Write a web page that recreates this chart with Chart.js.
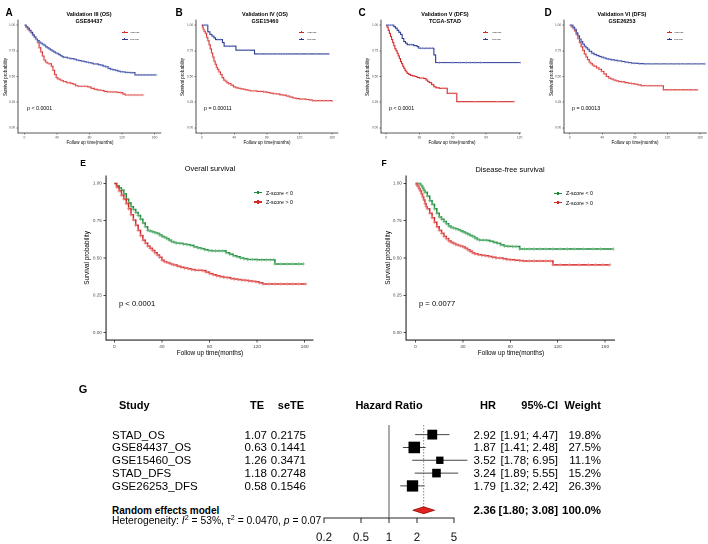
<!DOCTYPE html>
<html>
<head>
<meta charset="utf-8">
<script src="https://cdn.jsdelivr.net/npm/chart.js@4.4.1/dist/chart.umd.min.js"></script>
<style>
  html, body { margin: 0; padding: 0; background: #fff; }
  #page { position: relative; width: 708px; height: 544px; overflow: hidden; font-family: "Liberation Sans", Arial, Helvetica, sans-serif; }
  canvas { position: absolute; }
  .t { position: absolute; white-space: nowrap; transform-origin: 0 0; line-height: 1; }
  .t sup { font-size: 70%; line-height: 0; vertical-align: 0.55em; }
  .k { position: absolute; }
</style>
</head>
<body>
<div id="page"></div>
<script>
const FONT = '"Liberation Sans", Arial, Helvetica, sans-serif';

// ====== KM curves, [months, survival]; a repeated survival value = censored
const aHigh = [[0,1],[2,.98],[4,.96],[6,.945],[8,.925],[10,.905],[12,.885],[14,.865],[16,.83],[18,.78],[20,.74],[22,.70],[24,.66],[26,.64],[28,.63],[30,.625],[31,.625],[33,.6],[35,.56],[37,.52],[39,.49],[41,.475],[44,.465],[46,.46],[48,.45],[52,.44],[55,.44],[57,.432],[60,.425],[63,.41],[66,.405],[70,.405],[74,.405],[78,.398],[82,.385],[86,.375],[90,.368],[94,.365],[98,.355],[102,.35],[106,.35],[110,.35],[114,.345],[118,.342],[121,.33],[124,.32],[128,.32],[132,.32],[136,.32],[140,.32],[144,.32],[146,.32]];
const aLow = [[0,1],[2,.985],[4,.97],[6,.95],[8,.93],[10,.905],[12,.885],[14,.865],[16,.85],[18,.835],[20,.825],[22,.815],[24,.805],[26,.79],[28,.78],[30,.77],[32,.76],[34,.75],[36,.74],[38,.73],[40,.725],[42,.715],[44,.705],[46,.695],[48,.687],[50,.687],[53,.68],[56,.675],[58,.675],[61,.668],[64,.66],[67,.655],[70,.65],[73,.645],[76,.64],[79,.635],[82,.63],[85,.622],[88,.622],[91,.615],[94,.61],[97,.6],[100,.595],[103,.58],[106,.57],[109,.565],[112,.56],[115,.552],[118,.547],[121,.545],[124,.54],[127,.54],[130,.537],[133,.537],[136,.515],[140,.515],[144,.515],[148,.515],[152,.515],[156,.515],[160,.515],[162,.515]];
const bHigh = [[0,1],[1,.98],[2,.96],[3,.94],[4.5,.92],[6,.88],[7.5,.85],[9,.81],[10.5,.77],[12,.73],[13.5,.69],[15,.65],[16.5,.62],[18,.59],[19.5,.57],[21,.545],[23,.52],[25,.49],[27,.465],[29,.455],[31,.44],[33,.43],[36,.415],[39,.4],[42,.39],[45,.385],[48,.38],[51,.375],[54,.37],[57,.365],[60,.36],[64,.36],[68,.355],[72,.355],[76,.35],[80,.345],[84,.338],[88,.332],[92,.33],[96,.322],[100,.318],[104,.31],[108,.3],[112,.29],[116,.285],[120,.28],[124,.28],[128,.276],[132,.272],[136,.265],[140,.265],[145,.265],[150,.265],[155,.265],[160,.26]];
const bLow = [[0,1],[3,1],[5,1],[6.5,1],[7.5,.935],[10,.91],[12.5,.893],[15,.875],[17,.86],[20,.86],[23,.86],[25.5,.83],[27.5,.795],[30,.795],[34,.795],[38,.795],[42,.756],[46,.756],[52,.756],[58,.756],[64.8,.72],[72,.72],[80,.72],[86,.72],[92,.72],[98,.72],[104,.72],[112,.72],[120,.72],[130,.72],[140,.72],[150,.72],[156,.72]];
const cHigh = [[0,1],[1,.98],[2,.95],[3,.92],[4,.89],[5,.86],[6,.83],[7,.8],[8,.77],[9,.75],[10,.725],[11,.7],[12,.675],[13,.645],[14,.625],[15,.6],[16,.58],[17,.56],[18,.545],[19,.53],[20.5,.52],[22,.51],[24,.505],[26,.5],[28,.49],[30,.485],[32,.485],[34,.48],[36,.465],[37.5,.45],[39,.44],[41,.42],[43,.4],[45,.39],[48,.385],[51,.385],[53.6,.385],[55,.336],[57,.336],[60,.336],[62.7,.336],[63.6,.255],[80,.255],[100,.255],[115,.255]];
const cLow = [[0,1],[2,1],[4,1],[6,1],[7,.985],[8.5,.97],[10,.95],[11.5,.93],[13,.91],[14.5,.87],[16,.84],[17.5,.825],[19,.81],[21,.81],[23,.81],[25,.8],[28,.79],[29.4,.775],[31,.775],[33,.775],[36,.775],[39,.775],[41.6,.775],[43,.71],[44.6,.635],[48,.635],[60,.635],[67,.635],[72,.635],[76,.635],[80,.635],[85,.635],[121,.635]];
const dHigh = [[0,1],[2,.985],[4,.97],[6,.945],[8,.91],[10,.87],[12,.83],[14,.79],[16,.755],[18,.72],[20,.69],[22,.665],[24,.64],[26,.625],[28,.61],[30,.6],[33,.585],[36,.57],[39,.55],[42,.525],[45,.5],[48,.484],[51,.475],[54,.465],[57,.458],[60,.451],[64,.448],[68,.44],[72,.435],[76,.43],[80,.425],[84,.418],[88,.41],[95,.41],[100,.41],[105,.41],[110,.41],[113,.41],[115,.37],[125,.37],[135,.37],[145,.37],[152,.37],[157,.37]];
const dLow = [[0,1],[2,1],[4,.98],[6,.96],[8,.925],[10,.895],[12,.865],[14,.84],[16,.815],[18,.795],[20,.78],[22,.765],[24,.745],[27,.727],[30,.715],[33,.705],[36,.695],[39,.688],[42,.68],[45,.672],[48,.668],[51,.662],[55,.658],[59,.652],[64,.646],[68,.64],[72,.635],[76,.63],[80,.628],[85,.625],[92,.623],[100,.623],[110,.623],[120,.623],[128,.623],[135,.623],[142,.623],[150,.623],[158,.623],[166,.623]];
const eLow = [[0,1],[2,.985],[4,.97],[6,.955],[8,.93],[10,.895],[12,.87],[14,.845],[16,.825],[18,.805],[20,.785],[22,.76],[24,.735],[26,.71],[28,.685],[30,.68],[32,.675],[34,.67],[36,.665],[38,.655],[40,.645],[42,.638],[44,.63],[46,.62],[48,.61],[50,.605],[52,.6],[55,.598],[58,.593],[61,.59],[64,.585],[67,.575],[70,.568],[73,.563],[76,.555],[79,.55],[82,.548],[85,.548],[88,.548],[91,.548],[94,.535],[97,.525],[100,.515],[103,.508],[106,.5],[109,.495],[112,.49],[116,.49],[120,.488],[124,.488],[128,.488],[131,.488],[134,.488],[135,.46],[140,.46],[145,.46],[150,.46],[155,.46],[159,.46]];
const eHigh = [[0,1],[2,.975],[4,.95],[6,.92],[8,.895],[10,.865],[12,.83],[14,.79],[16,.755],[18,.72],[20,.685],[22,.65],[24,.62],[26,.6],[28,.58],[30,.565],[32,.55],[34,.535],[36,.52],[38,.505],[40,.485],[42,.475],[44,.47],[46,.465],[48,.458],[50,.453],[53,.445],[56,.438],[59,.432],[62,.428],[65,.422],[68,.418],[71,.418],[74,.415],[77,.405],[80,.395],[83,.388],[86,.38],[89,.375],[92,.37],[95,.368],[98,.362],[101,.358],[104,.355],[107,.352],[110,.35],[113,.346],[116,.343],[119,.34],[122,.333],[125,.326],[130,.326],[135,.326],[140,.326],[145,.326],[150,.326],[155,.326],[161,.326]];
const fLow = [[0,1],[2,1],[4,.995],[5,.985],[6,.97],[7,.955],[8,.94],[10,.915],[12,.885],[14,.86],[16,.83],[18,.8],[20,.775],[22,.76],[24,.745],[26,.73],[28,.715],[30,.705],[32,.7],[34,.695],[36,.69],[38,.683],[40,.675],[42,.668],[44,.66],[46,.652],[48,.645],[50,.635],[52,.625],[54,.62],[57,.62],[60,.618],[63,.612],[66,.605],[69,.598],[72,.588],[75,.58],[78,.578],[82,.577],[85,.577],[88,.56],[92,.56],[96,.56],[100,.56],[105,.56],[110,.56],[116,.56],[122,.56],[128,.56],[134,.56],[142,.56],[150,.56],[156,.56],[167,.56]];
const fHigh = [[0,1],[1,.99],[2,.98],[3,.965],[4,.95],[5,.93],[6,.91],[7,.89],[8,.865],[9,.845],[10,.83],[12,.8],[14,.77],[16,.74],[18,.71],[20,.685],[22,.665],[24,.645],[26,.63],[28,.615],[30,.605],[32,.598],[34,.59],[36,.585],[38,.58],[40,.575],[42,.565],[44,.555],[46,.545],[48,.535],[50,.528],[53,.522],[56,.518],[59,.515],[62,.51],[65,.505],[68,.5],[71,.5],[74,.495],[77,.49],[80,.488],[84,.485],[88,.482],[91,.48],[96,.48],[100,.48],[105,.48],[110,.48],[114,.48],[116,.454],[122,.454],[130,.454],[138,.454],[146,.454],[152,.454],[158,.454],[164,.454]];

const survTicks = [0, 0.25, 0.5, 0.75, 1];
const monthTicks160 = [0, 40, 80, 120, 160];
const monthTicks120 = [0, 30, 60, 90, 120];

// ====== Forest plot data
const studies = ["STAD_OS", "GSE84437_OS", "GSE15460_OS", "STAD_DFS", "GSE26253_DFS"];
const te = [1.07, 0.63, 1.26, 1.18, 0.58];
const seTE = [0.2175, 0.1441, 0.3471, 0.2748, 0.1546];
const hr = [2.92, 1.87, 3.52, 3.24, 1.79];
const ciLow = [1.91, 1.41, 1.78, 1.89, 1.32];
const ciHigh = [4.47, 2.48, 6.95, 5.55, 2.42];
const weight = [19.8, 27.5, 11.1, 15.2, 26.3];
const pooledHR = 2.36, pooledLow = 1.80, pooledHigh = 3.08, pooledWeight = 100.0;
const hetI2 = "53%", hetTau2 = "0.0470", hetP = "0.07";
const hrTicks = [0.2, 0.5, 1, 2, 5];

const RED = "#D52A2A", RED_M = "rgba(236,130,130,0.8)";
const BLUE = "#2B3990", BLUE_M = "rgba(120,135,205,0.8)";
const GREEN = "#1E8A3A", GREEN_M = "rgba(115,190,135,0.8)";

const page = document.getElementById("page");
const K = 4;

// text helper: (x, y) is the anchor, y = vertical centre
function text(str, x, y, o = {}) {
  const d = document.createElement("div");
  d.className = "t";
  d.innerHTML = str;
  d.style.fontSize = (o.size || 10) * K + "px";
  d.style.fontWeight = o.bold ? "bold" : "normal";
  d.style.color = o.color || "#000";
  d.style.left = x + "px";
  d.style.top = y + "px";
  const ax = o.align === "center" ? -50 : o.align === "right" ? -100 : 0;
  d.style.transform = (o.rotate ? `rotate(${o.rotate}deg) ` : "") + `scale(${1 / K}) translate(${ax}%, -50%)`;
  page.appendChild(d);
}

function legendKey(x1, x2, y, color, lw, r) {
  const l = document.createElement("div");
  l.className = "k";
  Object.assign(l.style, { left: x1 + "px", top: (y - lw / 2) + "px", width: (x2 - x1) + "px", height: lw + "px", background: color });
  page.appendChild(l);
  const v = document.createElement("div");
  v.className = "k";
  Object.assign(v.style, { left: ((x1 + x2) / 2 - lw / 2) + "px", top: (y - r) + "px", width: lw + "px", height: 2 * r + "px", background: color });
  page.appendChild(v);
}

function makeCanvas(l, t, w, h) {
  const cv = document.createElement("canvas");
  cv.width = w; cv.height = h;
  cv.style.left = l + "px"; cv.style.top = t + "px";
  cv.style.width = w + "px"; cv.style.height = h + "px";
  page.appendChild(cv);
  return cv;
}

const SMALL = { padL: 16, padB: 8, fx: 3.4, fy: 3.2, tl: 1.5, tp: 0.8, lw: 1.1, mr: 1.2, axw: 0.8,
  title: 5.5, axTitle: 4.5, leg: 2.4, p: 5.3, letter: 10 };
const BIG = { padL: 14, padB: 10, fx: 4.8, fy: 4.6, tl: 2.5, tp: 1.2, lw: 1.5, mr: 1.7, axw: 1.1,
  title: 7.4, axTitle: 6.4, leg: 5.3, p: 7.6, letter: 8.5 };

const kmPanels = [
  { letter: "A", at: [9, 12], st: SMALL, area: { l: 17.8, t: 20.2, r: 160.8, b: 132.8 }, x: [-8, 168], ticks: monthTicks160,
    title: ["Validation III (OS)", "GSE84437"], titleX: 89, p: "p &lt; 0.0001", pAt: [27, 108.3],
    yTitleX: 5, xTitleX: 89.5, xTitleY: 141.7,
    legend: { x1: 121.7, x2: 127.7, tx: 130, ys: [32.3, 39] },
    series: [{ name: "High risk", data: aHigh, color: RED, mark: RED_M, all: true },
             { name: "Low risk", data: aLow, color: BLUE, mark: BLUE_M, all: true }] },
  { letter: "B", at: [178.5, 12], st: SMALL, area: { l: 195.6, t: 20.2, r: 337.4, b: 132.8 }, x: [-7, 167], ticks: monthTicks160,
    title: ["Validation IV (OS)", "GSE15460"], titleX: 265, p: "p = 0.00011", pAt: [204.3, 108.3],
    yTitleX: 181.7, xTitleX: 266.7, xTitleY: 141.7,
    legend: { x1: 299, x2: 304.3, tx: 306.7, ys: [32.3, 39.3] },
    series: [{ name: "High risk", data: bHigh, color: RED, mark: RED_M, all: true },
             { name: "Low risk", data: bLow, color: BLUE, mark: BLUE_M, all: false }] },
  { letter: "C", at: [361.7, 12], st: SMALL, area: { l: 380.7, t: 20.2, r: 520.4, b: 132.8 }, x: [-4.5, 121], ticks: monthTicks120,
    title: ["Validation V (DFS)", "TCGA-STAD"], titleX: 445, p: "p &lt; 0.0001", pAt: [389, 108.3],
    yTitleX: 366.7, xTitleX: 451.7, xTitleY: 141.7,
    legend: { x1: 483.3, x2: 488.3, tx: 491.7, ys: [32.3, 39] },
    series: [{ name: "High risk", data: cHigh, color: RED, mark: RED_M, all: false },
             { name: "Low risk", data: cLow, color: BLUE, mark: BLUE_M, all: false }] },
  { letter: "D", at: [548, 12], st: SMALL, area: { l: 564, t: 20.2, r: 706.5, b: 132.8 }, x: [-7, 168], ticks: monthTicks160,
    title: ["Validation VI (DFS)", "GSE26253"], titleX: 621.5, p: "p = 0.00013", pAt: [572, 108.3],
    yTitleX: 551, xTitleX: 634.7, xTitleY: 141.7,
    legend: { x1: 666.7, x2: 671.7, tx: 674, ys: [32.3, 39] },
    series: [{ name: "High risk", data: dHigh, color: RED, mark: RED_M, all: true },
             { name: "Low risk", data: dLow, color: BLUE, mark: BLUE_M, all: true }] },
  { letter: "E", at: [83.3, 163], st: BIG, area: { l: 106, t: 176.25, r: 313, b: 340.15 }, x: [-7, 167], ticks: monthTicks160,
    title: ["Overall survival"], titleX: 210, titleY: 168, p: "p &lt; 0.0001", pAt: [119, 303.3],
    yTitleX: 87.3, xTitleX: 210, xTitleY: 352.7,
    legend: { x1: 254, x2: 261.7, tx: 265.7, ys: [192.7, 202] },
    series: [{ name: "Z-score &lt; 0", data: eLow, color: GREEN, mark: GREEN_M, all: true },
             { name: "Z-score &gt; 0", data: eHigh, color: RED, mark: RED_M, all: true }] },
  { letter: "F", at: [384, 163], st: BIG, area: { l: 406.2, t: 176.25, r: 614.8, b: 340.15 }, x: [-8, 168], ticks: monthTicks160,
    title: ["Disease-free survival"], titleX: 510, titleY: 169, p: "p = 0.0077", pAt: [419.3, 303.3],
    yTitleX: 388.3, xTitleX: 510.8, xTitleY: 352.7,
    legend: { x1: 554, x2: 562, tx: 566, ys: [193.3, 202.7] },
    series: [{ name: "Z-score &lt; 0", data: fLow, color: GREEN, mark: GREEN_M, all: true },
             { name: "Z-score &gt; 0", data: fHigh, color: RED, mark: RED_M, all: true }] },
];

function kmChart(p) {
  const s = p.st, a = p.area, padT = 3;
  const w = Math.ceil(a.r - a.l + s.padL + 4);
  const h = Math.ceil(a.b - a.t + padT + s.padB);
  const padR = w - s.padL - (a.r - a.l);
  const cv = makeCanvas(a.l - s.padL, a.t - padT, w, h);

  new Chart(cv, {
    type: "line",
    data: {
      datasets: p.series.slice().reverse().map(sr => ({
        data: sr.data.map(([x, y]) => ({ x, y })),
        stepped: true,
        borderColor: sr.color,
        borderWidth: s.lw,
        pointStyle: "cross",
        pointRadius: (ctx) => {
          const i = ctx.dataIndex;
          if (i === 0) return 0;
          return (sr.all || sr.data[i][1] === sr.data[i - 1][1]) ? s.mr : 0;
        },
        pointBorderColor: sr.mark,
        pointBorderWidth: s.lw * 0.6,
        pointHoverRadius: 0,
      })),
    },
    options: {
      responsive: false,
      animation: false,
      devicePixelRatio: 2,
      events: [],
      layout: { padding: { top: padT, right: padR, left: 0, bottom: 0 } },
      plugins: { legend: { display: false }, tooltip: { enabled: false } },
      scales: {
        x: {
          type: "linear", min: p.x[0], max: p.x[1],
          afterBuildTicks: (sc) => { sc.ticks = p.ticks.map(v => ({ value: v })); },
          afterFit: (sc) => { sc.height = s.padB; sc.paddingLeft = sc.paddingRight = 0; },
          grid: { drawOnChartArea: false, tickLength: s.tl, color: "#333", lineWidth: s.axw * 0.8 },
          border: { color: "#222", width: s.axw },
          ticks: { font: { size: s.fx, family: FONT }, color: "#4d4d4d", padding: s.tp, maxRotation: 0, autoSkip: false },
        },
        y: {
          type: "linear", min: -0.05, max: 1.05,
          afterBuildTicks: (sc) => { sc.ticks = survTicks.map(v => ({ value: v })); },
          afterFit: (sc) => { sc.width = s.padL; sc.paddingTop = sc.paddingBottom = 0; },
          grid: { drawOnChartArea: false, tickLength: s.tl, color: "#333", lineWidth: s.axw * 0.8 },
          border: { color: "#222", width: s.axw },
          ticks: { font: { size: s.fy, family: FONT }, color: "#4d4d4d", padding: s.tp + 0.5, autoSkip: false,
            callback: (v) => Number(v).toFixed(2) },
        },
      },
    },
  });

  // texts
  text(p.letter, p.at[0], p.at[1], { size: s.letter, bold: true, align: "center" });
  if (p.title.length === 2) {
    text(p.title[0], p.titleX, 14, { size: s.title, bold: true, align: "center" });
    text(p.title[1], p.titleX, 20.6, { size: s.title, bold: true, align: "center" });
  } else {
    text(p.title[0], p.titleX, p.titleY, { size: s.title, align: "center" });
  }
  text(p.p, p.pAt[0], p.pAt[1], { size: s.p });
  text("Survival probability", p.yTitleX, (a.t + a.b) / 2, { size: s.axTitle, align: "center", rotate: -90 });
  text("Follow up time(months)", p.xTitleX, p.xTitleY, { size: s.axTitle, align: "center" });
  p.series.forEach((sr, i) => {
    legendKey(p.legend.x1, p.legend.x2, p.legend.ys[i], sr.color, s.lw * 0.9, s.mr);
    text(sr.name, p.legend.tx, p.legend.ys[i], { size: s.leg });
  });
}

kmPanels.forEach(kmChart);

// ====== Forest plot (G)
function forestChart() {
  const area = { l: 324, r: 454, t: 423, b: 518 };
  const padL = 24, padR = 46, padT = 6, padB = 28;
  const cl = area.l - padL, ct = area.t - padT;
  const cv = makeCanvas(cl, ct, area.r - area.l + padL + padR, area.b - area.t + padT + padB);
  const pooledRow = studies.length + 0.9;
  const dh = 0.27;

  const ciSets = studies.map((_, i) => ({
    data: [{ x: ciLow[i], y: i }, { x: ciHigh[i], y: i }],
    borderColor: "#444", borderWidth: 1, pointRadius: 0, clip: false,
  }));

  const chart = new Chart(cv, {
    type: "line",
    data: {
      datasets: [
        { data: [{ x: pooledLow, y: pooledRow }, { x: pooledHR, y: pooledRow - dh }, { x: pooledHigh, y: pooledRow },
                 { x: pooledHR, y: pooledRow + dh }, { x: pooledLow, y: pooledRow }],
          borderColor: "#9a1010", borderWidth: 0.8, backgroundColor: "#E0231E", fill: "shape", pointRadius: 0 },
        { data: hr.map((v, i) => ({ x: v, y: i })), showLine: false, pointStyle: "rect",
          pointRadius: (ctx) => 1.56 * Math.sqrt(weight[ctx.dataIndex]),
          pointBackgroundColor: "#000", pointBorderWidth: 0, clip: false },
        ...ciSets,
        { data: [{ x: pooledHR, y: -0.75 }, { x: pooledHR, y: pooledRow }],
          borderColor: "#888", borderWidth: 1, borderDash: [1.5, 1.5], pointRadius: 0 },
        { data: [{ x: 1, y: -0.75 }, { x: 1, y: 6.5 }], borderColor: "#555", borderWidth: 1, pointRadius: 0 },
      ],
    },
    options: {
      responsive: false,
      animation: false,
      devicePixelRatio: 2,
      events: [],
      layout: { padding: { top: padT, right: padR, left: padL, bottom: 0 } },
      plugins: { legend: { display: false }, tooltip: { enabled: false } },
      scales: {
        x: {
          type: "logarithmic", min: 0.2, max: 5,
          afterBuildTicks: (sc) => { sc.ticks = hrTicks.map(v => ({ value: v })); },
          afterFit: (sc) => { sc.height = padB; sc.paddingLeft = sc.paddingRight = 0; },
          grid: { drawOnChartArea: false, tickLength: 5, color: "#222", lineWidth: 1 },
          border: { color: "#222", width: 1 },
          ticks: { font: { size: 11.5, family: FONT }, color: "#111", padding: 8, maxRotation: 0, autoSkip: false,
            callback: (v) => String(v) },
        },
        y: { type: "linear", min: -0.75, max: 6.5, reverse: true, display: false },
      },
    },
  });

  const ys = chart.scales.y, xs = chart.scales.x;
  const rowY = (v) => ct + ys.getPixelForValue(v);
  const fs = 11.5;

  text("G", 83, 389, { size: 11, bold: true, align: "center" });
  text("Study", 119.3, 405, { size: 11, bold: true });
  text("TE", 257, 405, { size: 11, bold: true, align: "center" });
  text("seTE", 291, 405, { size: 11, bold: true, align: "center" });
  text("Hazard Ratio", cl + xs.getPixelForValue(1), 405, { size: 11, bold: true, align: "center" });
  text("HR", 495.5, 405, { size: 11, bold: true, align: "right" });
  text("95%-CI", 558.3, 405, { size: 11, bold: true, align: "right" });
  text("Weight", 600.7, 405, { size: 11, bold: true, align: "right" });

  studies.forEach((name, i) => {
    const y = rowY(i);
    text(name, 111.7, y, { size: fs });
    text(te[i].toFixed(2), 267, y, { size: fs, align: "right" });
    text(seTE[i].toFixed(4), 306, y, { size: fs, align: "right" });
    text(hr[i].toFixed(2), 495.5, y, { size: fs, align: "right" });
    text(`[${ciLow[i].toFixed(2)}; ${ciHigh[i].toFixed(2)}]`, 558.3, y, { size: fs, align: "right" });
    text(`${weight[i].toFixed(1)}%`, 600.7, y, { size: fs, align: "right" });
  });

  const py = rowY(pooledRow);
  text("Random effects model", 111.7, py, { size: 10, bold: true });
  text(pooledHR.toFixed(2), 495.5, py, { size: fs, bold: true, align: "right" });
  text(`[${pooledLow.toFixed(2)}; ${pooledHigh.toFixed(2)}]`, 558.3, py, { size: fs, bold: true, align: "right" });
  text(`${pooledWeight.toFixed(1)}%`, 600.7, py, { size: fs, bold: true, align: "right" });
  text(`Heterogeneity: <i>I</i><sup>2</sup> = ${hetI2}, &tau;<sup>2</sup> = ${hetTau2}, <i>p</i> = ${hetP}`,
    111.7, rowY(pooledRow + 0.8), { size: 10.3 });
}

forestChart();
</script>
</body>
</html>
